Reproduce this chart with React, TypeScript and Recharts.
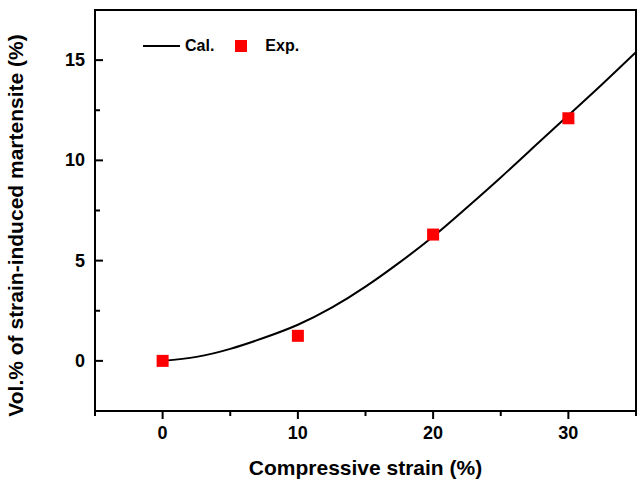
import React from 'react'
import { ComposedChart, Line, Scatter, XAxis, YAxis, ReferenceArea, Legend } from 'recharts'

// strain (%) for the calculated curve
const calStrain = [0, 2.5, 5, 7.5, 10, 12.5, 15, 17.5, 20, 22.5, 25, 27.5, 30, 32.5, 35]
const calVol = [0, 0.2, 0.6, 1.15, 1.8, 2.65, 3.7, 4.9, 6.2, 7.65, 9.15, 10.7, 12.25, 13.8, 15.4]

const expStrain = [0, 10, 20, 30]
const expVol = [0, 1.25, 6.3, 12.1]

const xTicks = [-5, 0, 5, 10, 15, 20, 25, 30, 35]
const yTicks = [0, 2.5, 5, 7.5, 10, 12.5, 15]

const calData = calStrain.map((x, i) => ({ x, y: calVol[i] }))
const expData = expStrain.map((x, i) => ({ x, y: expVol[i] }))

const font = '"Liberation Sans", Arial, sans-serif'

const XTick = ({ x, y, payload }: any) => {
	const v = payload.value
	const major = v % 10 === 0
	return (
		<g>
			<line x1={x} y1={y} x2={x} y2={y + (major ? 8 : 5)} stroke="#000" strokeWidth={2} />
			{major && (
				<text x={x} y={y + 28} textAnchor="middle" fontFamily={font} fontWeight="bold" fontSize={18} fill="#000">
					{v}
				</text>
			)}
		</g>
	)
}

const YTick = ({ x, y, payload }: any) => {
	const v = payload.value
	const major = v % 5 === 0
	return (
		<g>
			<line x1={x} y1={y} x2={x + (major ? 8 : 5)} y2={y} stroke="#000" strokeWidth={2} />
			{major && (
				<text x={x - 10} y={y + 6} textAnchor="end" fontFamily={font} fontWeight="bold" fontSize={18} fill="#000">
					{v}
				</text>
			)}
		</g>
	)
}

const renderLegend = () => (
	<div style={{ display: 'flex', alignItems: 'center', fontFamily: font, fontWeight: 'bold', fontSize: 16, color: '#000' }}>
		<svg width={37} height={4}>
			<line x1={0} y1={2} x2={37} y2={2} stroke="#000" strokeWidth={2} />
		</svg>
		<span style={{ marginLeft: 5 }}>Cal.</span>
		<span style={{ marginLeft: 21, width: 12, height: 12, background: '#ff0000', display: 'inline-block' }} />
		<span style={{ marginLeft: 18 }}>Exp.</span>
	</div>
)

const App = () => {
	return (
		<div style={{ position: 'absolute', left: 0, top: 0, background: '#fff' }}>
			<ComposedChart width={641} height={479} margin={{ top: 10, right: 5, bottom: 0, left: 0 }}>
				<XAxis
					type="number"
					dataKey="x"
					domain={[-5, 35]}
					ticks={xTicks}
					allowDataOverflow
					interval={0}
					height={68}
					tickSize={0}
					tickMargin={0}
					tickLine={false}
					axisLine={false}
					tick={<XTick />}
					label={{
						value: 'Compressive strain (%)',
						position: 'insideBottom',
						offset: 4,
						fill: '#000',
						style: { fontFamily: font, fontWeight: 'bold', fontSize: 21 },
					}}
				/>
				<YAxis
					type="number"
					dataKey="y"
					domain={[-2.5, 17.5]}
					ticks={yTicks}
					allowDataOverflow
					interval={0}
					width={95}
					tickSize={0}
					tickMargin={0}
					tickLine={false}
					axisLine={false}
					tick={<YTick />}
					label={{
						value: 'Vol.% of strain-induced martensite (%)',
						angle: -90,
						position: 'insideLeft',
						offset: 16,
						dy: 15,
						fill: '#000',
						style: { fontFamily: font, fontWeight: 'bold', fontSize: 21, textAnchor: 'middle' },
					}}
				/>
				<ReferenceArea x1={-5} x2={35} y1={-2.5} y2={17.5} fill="none" stroke="#000" strokeWidth={2} ifOverflow="visible" />
				<Line
					data={calData}
					dataKey="y"
					name="Cal."
					type="natural"
					stroke="#000"
					strokeWidth={2}
					dot={false}
					isAnimationActive={false}
				/>
				<Scatter
					data={expData}
					dataKey="y"
					name="Exp."
					isAnimationActive={false}
					shape={(p: any) => <rect x={p.cx - 6} y={p.cy - 6} width={12} height={12} fill="#ff0000" />}
				/>
				<Legend
					layout="horizontal"
					verticalAlign="middle"
					align="center"
					content={renderLegend}
					wrapperStyle={{ top: 37, left: 143, width: 'auto' }}
				/>
			</ComposedChart>
		</div>
	)
}

export default App
